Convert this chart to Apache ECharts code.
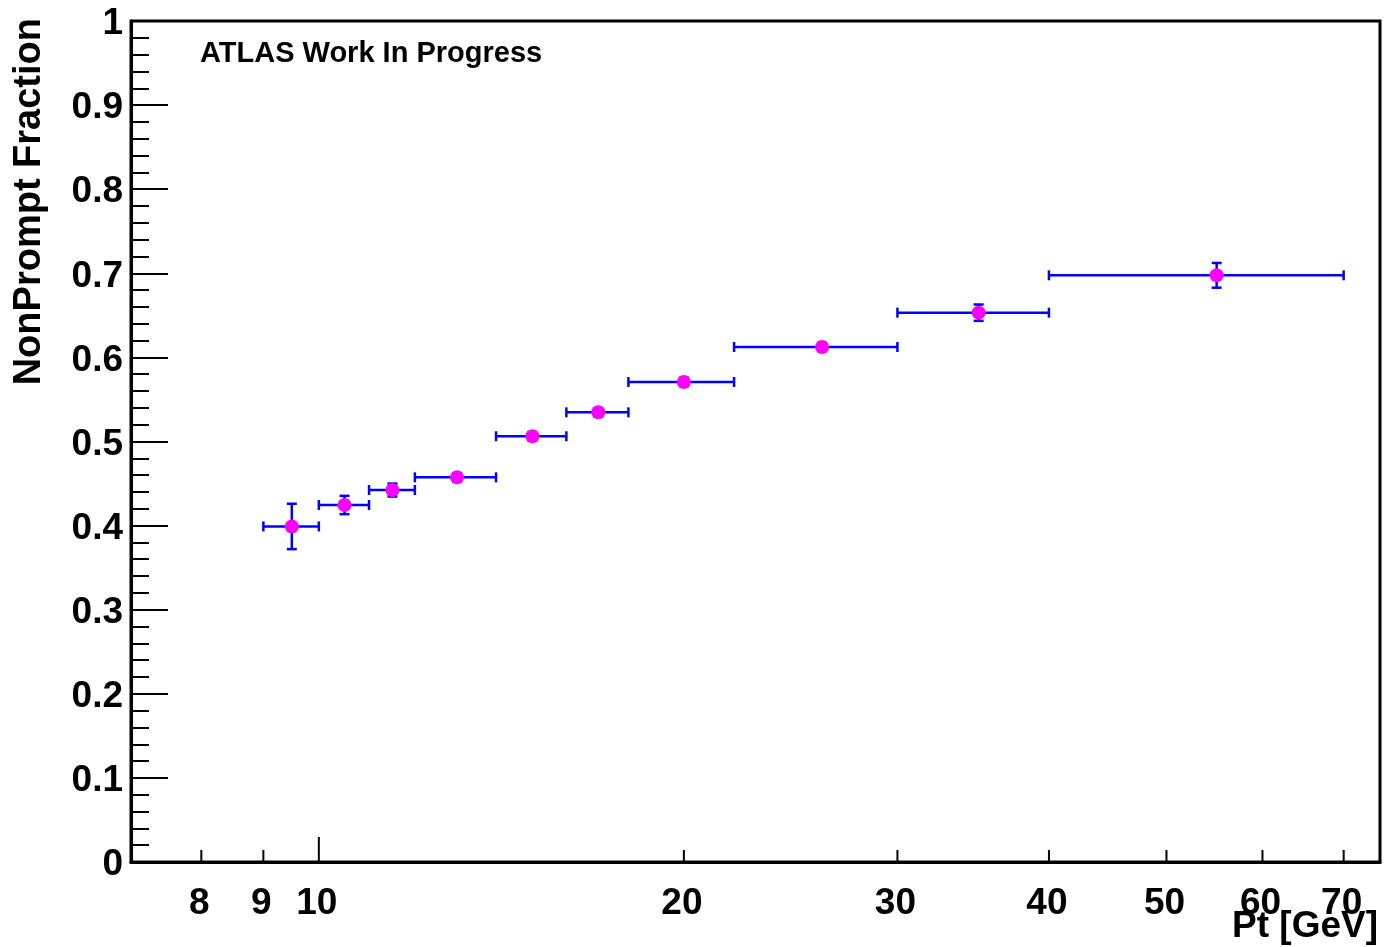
<!DOCTYPE html>
<html>
<head>
<meta charset="utf-8">
<script src="https://cdn.jsdelivr.net/npm/echarts@6/dist/echarts.min.js"></script>
<style>
  html, body { margin: 0; padding: 0; background: #ffffff; }
  #chart { width: 1384px; height: 947px; }
</style>
</head>
<body>
<div id="chart"></div>
<script>
// Pt bins [GeV]: centre, lower edge, upper edge
const ptCenter = [9.5, 10.5, 11.5, 13, 15, 17, 20, 26, 35, 55];
const ptLow    = [9, 10, 11, 12, 14, 16, 18, 22, 30, 40];
const ptHigh   = [10, 11, 12, 14, 16, 18, 22, 30, 40, 70];

// Non-prompt fraction per bin and its uncertainty
const fraction    = [0.399, 0.4245, 0.4423, 0.4574, 0.5062, 0.5347, 0.5708, 0.6124, 0.6532, 0.6976];
const fractionErr = [0.027, 0.0109, 0.0077, 0.005, 0.005, 0.005, 0.005, 0.005, 0.0097, 0.0147];

// Log-axis tick marks and labels
const xMajorTicks = [10];
const xMinorTicks = [8, 9, 20, 30, 40, 50, 60, 70];
const xTickLabels = [8, 9, 10, 20, 30, 40, 50, 60, 70];

// Fraction-axis labels
const yTickLabels = ['0', '0.1', '0.2', '0.3', '0.4', '0.5', '0.6', '0.7', '0.8', '0.9', '1'];

const X_MIN = 7, X_MAX = 75;
const FONT = "'Liberation Sans', Arial, Helvetica, sans-serif";
const BLUE = '#0000ff';
const MAGENTA = '#ff00ff';

const chart = echarts.init(document.getElementById('chart'), null, { renderer: 'canvas' });

const pointData = ptCenter.map((x, i) => [x, fraction[i], ptLow[i], ptHigh[i], fractionErr[i]]);
const tickData = xMajorTicks.map(v => [v, 0, 1]).concat(xMinorTicks.map(v => [v, 0, 0]));
const xLabelData = xTickLabels.map(v => [v, 0]);
const yLabelData = yTickLabels.map(s => [X_MIN, Number(s), s]);

// Horizontal bin-width bar and vertical uncertainty bar, both with end caps
function renderErrorBar(params, api) {
  const x = api.value(0), y = api.value(1);
  const lo = api.value(2), hi = api.value(3), e = api.value(4);
  const pl = api.coord([lo, y]);
  const ph = api.coord([hi, y]);
  const pc = api.coord([x, y]);
  const pt = api.coord([x, y + e]);
  const pb = api.coord([x, y - e]);
  const cap = 5;
  const st = { stroke: BLUE, lineWidth: 2.5, fill: null };
  const line = (x1, y1, x2, y2) => ({ type: 'line', shape: { x1, y1, x2, y2 }, style: st });
  return {
    type: 'group',
    children: [
      line(pl[0], pl[1], ph[0], ph[1]),
      line(pl[0], pl[1] - cap, pl[0], pl[1] + cap),
      line(ph[0], ph[1] - cap, ph[0], ph[1] + cap),
      line(pc[0], pt[1], pc[0], pb[1]),
      line(pc[0] - cap, pt[1], pc[0] + cap, pt[1]),
      line(pc[0] - cap, pb[1], pc[0] + cap, pb[1])
    ]
  };
}

// Inward tick marks on the log Pt axis (decade ticks are longer)
function renderTick(params, api) {
  const p = api.coord([api.value(0), api.value(1)]);
  const len = api.value(2) ? 25 : 12;
  return {
    type: 'line',
    shape: { x1: p[0], y1: p[1], x2: p[0], y2: p[1] - len },
    style: { stroke: '#000', lineWidth: 2 }
  };
}

function labelText(x, y, text, align) {
  return {
    type: 'text',
    x: x,
    y: y,
    style: {
      text: text,
      fill: '#000',
      font: 'bold 37px ' + FONT,
      align: align, textAlign: align,
      verticalAlign: 'middle', textVerticalAlign: 'middle'
    }
  };
}

function renderXLabel(params, api) {
  const v = api.value(0);
  const p = api.coord([v, api.value(1)]);
  return labelText(p[0] - 2, p[1] + 42, String(v), 'center');
}

function renderYLabel(params, api) {
  const p = api.coord([api.value(0), api.value(1)]);
  return labelText(p[0] - 8, p[1] + 3, yTickLabels[params.dataIndex], 'right');
}

const option = {
  animation: false,
  backgroundColor: '#ffffff',
  grid: {
    left: 131, right: 4, top: 21, bottom: 85,
    show: true, borderColor: '#000', borderWidth: 3, backgroundColor: 'transparent'
  },
  xAxis: {
    type: 'log',
    logBase: 10,
    min: X_MIN,
    max: X_MAX,
    axisLine: { show: true, lineStyle: { color: '#000', width: 3 } },
    axisTick: { show: false },
    minorTick: { show: false },
    axisLabel: { show: false },
    splitLine: { show: false },
    minorSplitLine: { show: false }
  },
  yAxis: {
    type: 'value',
    min: 0,
    max: 1,
    interval: 0.1,
    axisLine: { show: true, lineStyle: { color: '#000', width: 3 } },
    axisTick: { show: true, inside: true, length: 37, lineStyle: { color: '#000', width: 2 } },
    minorTick: { show: true, splitNumber: 5, length: 18, lineStyle: { color: '#000', width: 2 } },
    axisLabel: { show: false },
    splitLine: { show: false },
    minorSplitLine: { show: false }
  },
  series: [
    {
      type: 'custom',
      name: 'xticks',
      renderItem: renderTick,
      data: tickData,
      encode: { x: 0, y: 1 },
      silent: true,
      z: 3
    },
    {
      type: 'custom',
      name: 'xticklabels',
      renderItem: renderXLabel,
      data: xLabelData,
      encode: { x: 0, y: 1 },
      clip: false,
      silent: true,
      z: 3
    },
    {
      type: 'custom',
      name: 'yticklabels',
      renderItem: renderYLabel,
      data: yLabelData,
      encode: { x: 0, y: 1 },
      clip: false,
      silent: true,
      z: 3
    },
    {
      type: 'custom',
      name: 'errors',
      renderItem: renderErrorBar,
      data: pointData,
      encode: { x: 0, y: 1 },
      silent: true,
      z: 4
    },
    {
      type: 'scatter',
      name: 'NonPrompt Fraction',
      data: pointData.map(d => [d[0], d[1]]),
      symbol: 'circle',
      symbolSize: 14,
      itemStyle: { color: MAGENTA, opacity: 1 },
      silent: true,
      z: 5
    }
  ],
  graphic: [
    {
      type: 'text',
      x: 200, y: 53.5,
      style: {
        text: 'ATLAS Work In Progress',
        fill: '#000',
        font: 'bold 29px ' + FONT,
        align: 'left', textAlign: 'left',
        verticalAlign: 'middle', textVerticalAlign: 'middle'
      },
      z: 10
    },
    {
      type: 'text',
      x: 30, y: 18,
      rotation: Math.PI / 2,
      style: {
        text: 'NonPrompt Fraction',
        fill: '#000',
        font: 'bold 38px ' + FONT,
        align: 'right', textAlign: 'right',
        verticalAlign: 'middle', textVerticalAlign: 'middle'
      },
      z: 10
    },
    {
      type: 'text',
      x: 1378, y: 927,
      style: {
        text: 'Pt [GeV]',
        fill: '#000',
        font: 'bold 37px ' + FONT,
        align: 'right', textAlign: 'right',
        verticalAlign: 'middle', textVerticalAlign: 'middle'
      },
      z: 10
    }
  ]
};

chart.setOption(option);
</script>
</body>
</html>
